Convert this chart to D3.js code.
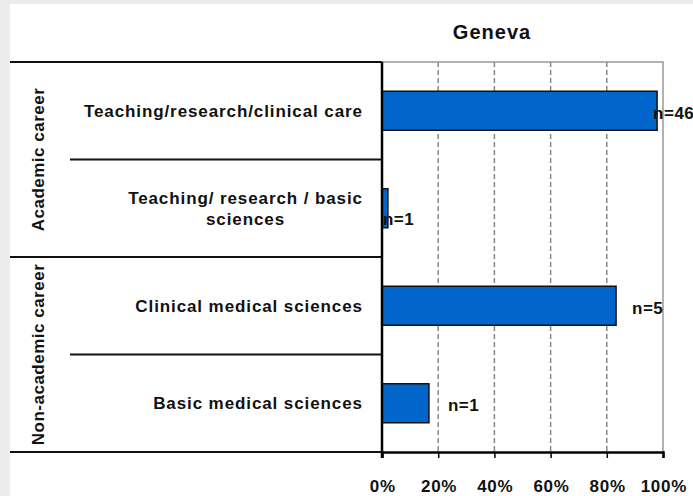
<!DOCTYPE html>
<html>
<head>
<meta charset="utf-8">
<script src="https://cdn.jsdelivr.net/npm/d3@7"></script>
<style>
  body { margin: 0; background: #ececec; }
  svg { display: block; font-family: "Liberation Sans", Arial, sans-serif; font-weight: bold; }
</style>
</head>
<body>
<svg id="chart" width="693" height="496"></svg>
<script>
// Geneva - career outcome, share of respondents
const categories = [
    ["Teaching/research/clinical care"],
    ["Teaching/ research / basic", "sciences"],
    ["Clinical medical sciences"],
    ["Basic medical sciences"]
];
const shares = [97.9, 2.1, 83.3, 16.7];
const counts = [46, 1, 5, 1];
const groups = ["Academic career", "Non-academic career"];
const groupOf = [0, 0, 1, 1];
const tickValues = [0, 20, 40, 60, 80, 100];
const title = "Geneva";

const svg = d3.select("#chart");
const W = 693, H = 496;
const m = { left: 382, right: 663, top: 62, bottom: 452 };
const tableLeft = 10, groupCol = 70, labelRight = 362;
const ls = 0.9; // letter spacing of the exported text

svg.append("rect").attr("x", tableLeft).attr("y", 4).attr("width", W - tableLeft).attr("height", H - 4).attr("fill", "#fff");

const x = d3.scaleLinear().domain([0, 100]).range([m.left, m.right]);
const y = d3.scaleBand().domain(d3.range(categories.length)).range([m.top, m.bottom]).paddingInner(0.6).paddingOuter(0.3);
const gap = (y.step() - y.bandwidth()) / 2;

// gridlines
svg.append("g").selectAll("line").data(tickValues.filter(d => d > 0 && d < 100)).join("line")
    .attr("x1", d => x(d)).attr("x2", d => x(d)).attr("y1", m.top).attr("y2", m.bottom)
    .attr("stroke", "#888").attr("stroke-width", 1.5).attr("stroke-dasharray", "5,3");
// frame top/right
svg.append("path").attr("d", `M${m.left},${m.top}H${m.right}V${m.bottom}`).attr("fill", "none").attr("stroke", "#999").attr("stroke-width", 1.5);

// table lines
const rows = d3.range(categories.length + 1).map(i => {
    const yy = i === categories.length ? m.bottom : y(i) - gap;
    const full = i === 0 || i === categories.length || groupOf[i] !== groupOf[i - 1];
    return { y: i === 0 ? m.top : yy, x1: full ? tableLeft : groupCol };
});
svg.append("g").selectAll("line").data(rows).join("line")
    .attr("x1", d => d.x1).attr("x2", m.left).attr("y1", d => d.y).attr("y2", d => d.y)
    .attr("stroke", "#111").attr("stroke-width", 2);

// bars
svg.append("g").selectAll("rect").data(shares).join("rect")
    .attr("x", x(0)).attr("y", (d, i) => y(i)).attr("width", d => x(d) - x(0)).attr("height", y.bandwidth())
    .attr("fill", "#0066cc").attr("stroke", "#111").attr("stroke-width", 1.5);

// bottom axis
const xAxis = svg.append("g").attr("transform", `translate(0,${m.bottom})`)
    .call(d3.axisBottom(x).tickValues(tickValues).tickFormat(d => d + "%").tickSize(6).tickPadding(22));
xAxis.select(".domain").attr("stroke", "#000").attr("stroke-width", 2.5);
xAxis.selectAll(".tick line").attr("stroke", "#000").attr("stroke-width", 1.5);
xAxis.selectAll("text").attr("font-size", 17).attr("font-family", "Liberation Sans, Arial").attr("font-weight", "bold")
    .attr("letter-spacing", 0.7).attr("dx", 0.35).attr("fill", "#111");

// left axis line
svg.append("line").attr("x1", m.left).attr("x2", m.left).attr("y1", m.top).attr("y2", m.bottom + 6)
    .attr("stroke", "#000").attr("stroke-width", 2.5);

// data labels (Excel-style placement)
const labelDx = [-4, -5, 16, 19], labelDy = [2, 11, 2, 2];
svg.append("g").selectAll("text").data(counts).join("text")
    .attr("x", (d, i) => x(shares[i]) + labelDx[i]).attr("y", (d, i) => y(i) + y.bandwidth() / 2 + labelDy[i])
    .attr("dy", "0.35em").attr("font-size", 17).attr("letter-spacing", 0.5).attr("fill", "#111").text(d => "n=" + d);

// category labels
categories.forEach((lines, i) => {
    const cy = y(i) + y.bandwidth() / 2;
    const lh = 21;
    const t = svg.append("text").attr("font-size", 17).attr("letter-spacing", ls).attr("fill", "#111");
    const first = t.append("tspan").attr("x", labelRight + ls).attr("text-anchor", "end")
        .attr("y", cy - (lines.length - 1) * lh / 2).attr("dy", "0.35em").text(lines[0]);
    if (lines.length > 1) {
        const w = first.node().getComputedTextLength();
        lines.slice(1).forEach((ln, k) => {
            t.append("tspan").attr("x", labelRight - w / 2 + ls).attr("text-anchor", "middle")
                .attr("y", cy - (lines.length - 1) * lh / 2 + (k + 1) * lh).attr("dy", "0.35em").text(ln);
        });
    }
});

// group labels
groups.forEach((g, gi) => {
    const idx = groupOf.map((v, i) => v === gi ? i : -1).filter(i => i >= 0);
    const y0 = y(idx[0]) - gap;
    const y1 = y(idx[idx.length - 1]) + y.bandwidth() + gap;
    svg.append("text").attr("transform", `translate(38,${(y0 + y1) / 2}) rotate(-90)`)
        .attr("text-anchor", "middle").attr("dy", "0.35em").attr("font-size", 17).attr("letter-spacing", 0.5)
        .attr("fill", "#111").text(g);
});

// title
svg.append("text").attr("x", 492).attr("y", 32).attr("dy", "0.35em").attr("text-anchor", "middle")
    .attr("font-size", 20).attr("letter-spacing", 1).attr("fill", "#111").text(title);
</script>
</body>
</html>
